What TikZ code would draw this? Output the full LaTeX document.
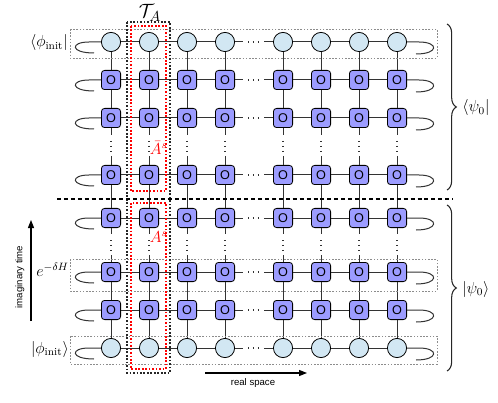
\documentclass[tikz,border=0pt]{standalone}
\usepackage{fontspec}
\newfontfamily\arial{Liberation Sans}
\usetikzlibrary{decorations.pathreplacing,arrows.meta}
\definecolor{circfill}{HTML}{D2E7F3}
\definecolor{sqfill}{HTML}{9C9CFF}
\begin{document}
\begin{tikzpicture}[x=0.75pt,y=-0.75pt,
  site/.style={circle,draw=black,fill=circfill,minimum size=14.4pt,inner sep=0pt,line width=0.6pt},
  op/.style={rectangle,rounded corners=2.4pt,draw=black,fill=sqfill,minimum size=14.4pt,inner sep=0pt,line width=0.6pt,font=\arial\fontsize{9.5}{9.5}\selectfont},
  bond/.style={line width=0.75pt,draw=black!80},
  dotsline/.style={line width=0.9pt,draw=black!80,dash pattern=on 1.1pt off 2.6pt},
  graybox/.style={draw=black!45,line width=0.6pt,dash pattern=on 1.2pt off 1.2pt},
  blackbox/.style={draw=black!85,line width=0.8pt,dash pattern=on 1.3pt off 1.3pt},
  redbox/.style={draw=red,line width=0.8pt,dash pattern=on 1.3pt off 1.3pt},
  mathlab/.style={font=\fontsize{11.5}{14}\selectfont,inner sep=0pt},
  smalllab/.style={font=\arial\fontsize{7.2}{8}\selectfont,inner sep=0pt},
  bracestyle/.style={decorate,decoration={brace,amplitude=7pt},line width=0.8pt,draw=black!85}
]
\useasboundingbox (0,0) rectangle (498,402);

% nodes
\foreach \c/\x in {1/111,2/149,3/187,4/225,5/283,6/321,7/359,8/397} {
  \node[site] (n-1-\c) at (\x,42) {};
  \foreach \r/\y in {2/80,3/118,4/175,5/218,6/272,7/310}
    \node[op] (n-\r-\c) at (\x,\y) {O};
  \node[site] (n-8-\c) at (\x,348) {};
}

% horizontal bonds and end loops
\foreach \r/\y in {1/42,2/80,3/118,4/175,5/218,6/272,7/310,8/348} {
  \draw[bond] (n-\r-1) -- (n-\r-2);
  \draw[bond] (n-\r-2) -- (n-\r-3);
  \draw[bond] (n-\r-3) -- (n-\r-4);
  \coordinate (ha-\r) at (243,\y);
  \coordinate (hb-\r) at (264,\y);
  \draw[bond] (n-\r-4) -- (ha-\r);
  \draw[dotsline] (248,\y) -- (260,\y);
  \draw[bond] (hb-\r) -- (n-\r-5);
  \draw[bond] (n-\r-5) -- (n-\r-6);
  \draw[bond] (n-\r-6) -- (n-\r-7);
  \draw[bond] (n-\r-7) -- (n-\r-8);
  \coordinate (ll-\r) at (94,{\y+11});
  \coordinate (rl-\r) at (416,{\y+12});
  \draw[bond] (n-\r-1.west) -- (89,\y) .. controls (70,\y) and (70,{\y+11}) .. (ll-\r);
  \draw[bond] (n-\r-8.east) -- (419,\y) .. controls (439,\y) and (439,{\y+12}) .. (rl-\r);
}

% vertical bonds
\foreach \c/\x in {1/111,2/149,3/187,4/225,5/283,6/321,7/359,8/397} {
  \draw[bond] (n-1-\c) -- (n-2-\c);
  \draw[bond] (n-2-\c) -- (n-3-\c);
  \coordinate (va-\c) at (\x,135);
  \coordinate (vb-\c) at (\x,156);
  \draw[bond] (n-3-\c) -- (va-\c);
  \draw[dotsline] (\x,141) -- (\x,153);
  \draw[bond] (vb-\c) -- (n-4-\c);
  \draw[bond] (n-4-\c) -- (n-5-\c);
  \coordinate (vc-\c) at (\x,234);
  \coordinate (vd-\c) at (\x,255);
  \draw[bond] (n-5-\c) -- (vc-\c);
  \draw[dotsline] (\x,240) -- (\x,252);
  \draw[bond] (vd-\c) -- (n-6-\c);
  \draw[bond] (n-6-\c) -- (n-7-\c);
  \draw[bond] (n-7-\c) -- (n-8-\c);
}

% dotted frames
\draw[graybox] (70,29) rectangle (437,58);
\draw[graybox] (70,259) rectangle (437,291);
\draw[graybox] (70,336) rectangle (437,364);
\draw[blackbox] (127,22) rectangle (170,373);
\draw[redbox] (131,26) rectangle (166,191);
\draw[redbox] (131,203) rectangle (166,369);

% dashed divider
\draw[line width=1.2pt,dash pattern=on 3pt off 2.2pt] (57,199) -- (453,199);

% braces
\draw[bracestyle] (447,24) -- (447,190);
\draw[bracestyle] (447,205) -- (447,371);

% labels
\node[font=\fontsize{15}{17}\selectfont,inner sep=0pt] (ta) at (150,13) {$\mathcal{T}_A$};
\node[mathlab,text=red,anchor=west] (abar) at (149.5,148) {$\bar{A}^s$};
\node[mathlab,text=red,anchor=west] (as) at (149.5,237) {$A^s$};
\node[mathlab,anchor=east] (phitop) at (68,43) {$\langle\phi_{\mathrm{init}}|$};
\node[mathlab,anchor=east] (phibot) at (69,349) {$|\phi_{\mathrm{init}}\rangle$};
\node[mathlab,anchor=east] (edh) at (69,270) {$e^{-\delta H}$};
\node[mathlab,anchor=west] (psibra) at (462,108) {$\langle\psi_0|$};
\node[mathlab,anchor=west] (psiket) at (462,289) {$|\psi_0\rangle$};

% axes
\coordinate (it0) at (31,321);
\coordinate (it1) at (31,220);
\draw[line width=0.9pt,-{Triangle[length=6pt,width=4.5pt]}] (it0) -- (it1);
\node[smalllab,rotate=90] (itl) at (20,277) {imaginary time};
\coordinate (rs0) at (205,373);
\coordinate (rs1) at (307,373);
\draw[line width=0.9pt,-{Triangle[length=6pt,width=4.5pt]}] (rs0) -- (rs1);
\node[smalllab] (rsl) at (253,383) {real space};
\end{tikzpicture}
\end{document}
